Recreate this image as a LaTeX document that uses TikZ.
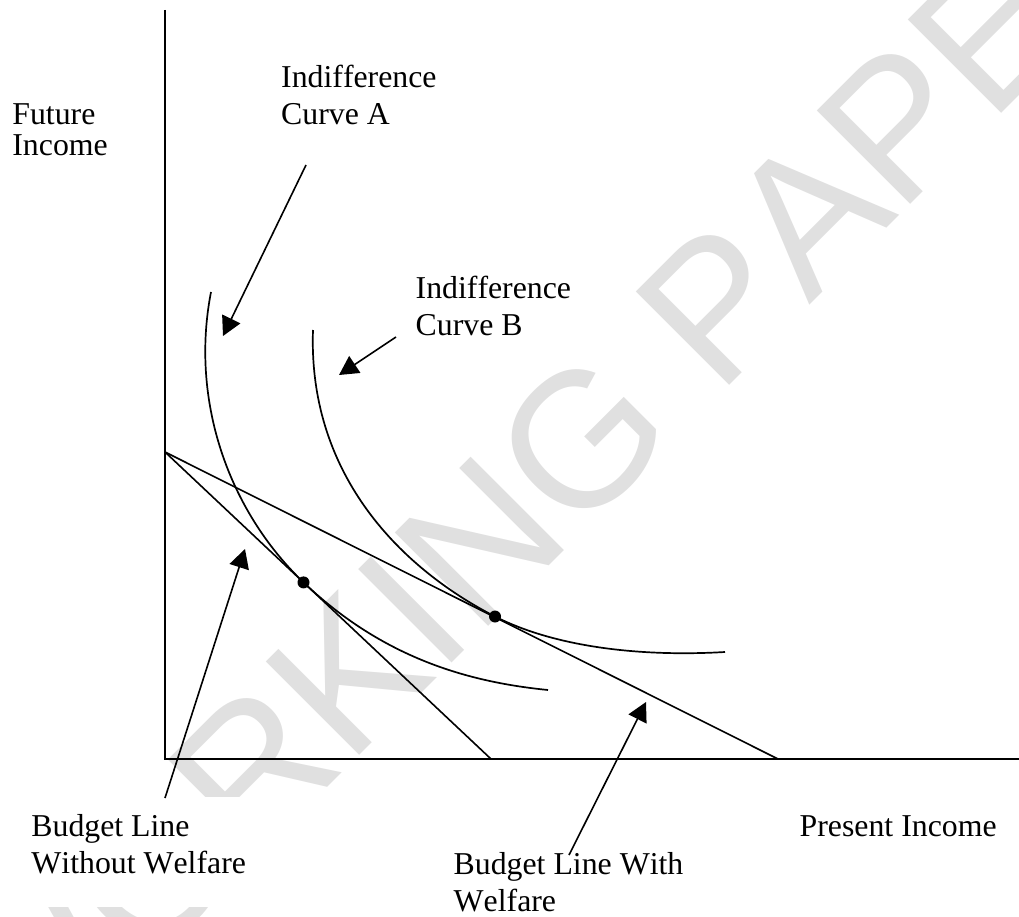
\documentclass[tikz,border=0pt]{standalone}
\usepackage{fontspec}
\setmainfont[Ligatures=NoCommon,Kerning=Off]{Liberation Serif}
\newfontfamily\markfont[Kerning=Off]{Liberation Sans}
\usetikzlibrary{arrows.meta}
\begin{document}
\begin{tikzpicture}[x=1pt,y=-1pt,
  axis/.style={line width=2pt},
  curve/.style={line width=1.7pt},
  budget/.style={line width=1.6pt},
  pointer/.style={line width=1.6pt,-{Triangle[length=19pt,width=20pt]}},
  label/.style={inner sep=0pt,anchor=base west,font=\fontsize{31.8}{37.3}\selectfont},
  dot/.style={circle,fill,inner sep=0pt,minimum size=12pt}]
\useasboundingbox (0,0) rectangle (1019,917);

% faint diagonal stamp behind the chart
\begin{scope}
  \clip (0,0) rectangle (1019,917);
  \node[rotate=45,anchor=base,inner sep=0pt,text=black!12,
        font=\markfont\fontsize{192}{192}\selectfont] (stamp) at (598,517) {WORKING PAPER};
\end{scope}

% opaque frame of the lower-left caption
\fill[white] (0,797) rectangle (352,907);

% axes
\coordinate (O) at (165,759);
\coordinate (ytop) at (165,10);
\coordinate (xend) at (1019,759);
\draw[axis] (ytop) -- (O) -- (xend);

% budget lines from the common intercept
\coordinate (icpt) at (165,452);
\coordinate (endNo) at (491,759);
\coordinate (endWith) at (778,759);
\draw[budget] (icpt) -- (endNo);
\draw[budget] (icpt) -- (endWith);

% tangency points
\node[dot] (tanA) at (303.5,582.4) {};
\node[dot] (tanB) at (495,616.5) {};

% indifference curves
\draw[curve] (211,292) .. controls (190,400) and (228,510) .. (tanA.center)
             .. controls (383,658) and (468,682) .. (548,690);
\draw[curve] (313,330) .. controls (308,470) and (395,565) .. (tanB.center)
             .. controls (555,647) and (640,657) .. (725,652);

% labels
\node[label,font=\fontsize{31.8}{31}\selectfont] (yl) at (12.2,125)
  {\begin{tabular}[t]{@{}l@{}}Future\\Income\end{tabular}};
\node[label] (icA) at (281,87.3)
  {\begin{tabular}[t]{@{}l@{}}Indifference\\Curve A\end{tabular}};
\node[label] (icB) at (415.5,298)
  {\begin{tabular}[t]{@{}l@{}}Indifference\\Curve B\end{tabular}};
\node[label] (blNo) at (31.2,836)
  {\begin{tabular}[t]{@{}l@{}}Budget Line\\Without Welfare\end{tabular}};
\node[label] (blWith) at (453.5,874)
  {\begin{tabular}[t]{@{}l@{}}Budget Line With\\Welfare\end{tabular}};
\node[label] (xl) at (799.5,836.7) {Present Income};

% pointers
\coordinate (pA0) at (306,165);  \coordinate (pA1) at (223,336);
\coordinate (pB0) at (396,337);  \coordinate (pB1) at (339,375);
\coordinate (pN0) at (165,798);  \coordinate (pN1) at (245,549);
\coordinate (pW0) at (569,855);  \coordinate (pW1) at (646,702);
\draw[pointer] (pA0) -- (pA1);
\draw[pointer] (pB0) -- (pB1);
\draw[pointer] (pN0) -- (pN1);
\draw[pointer] (pW0) -- (pW1);
\end{tikzpicture}
\end{document}
